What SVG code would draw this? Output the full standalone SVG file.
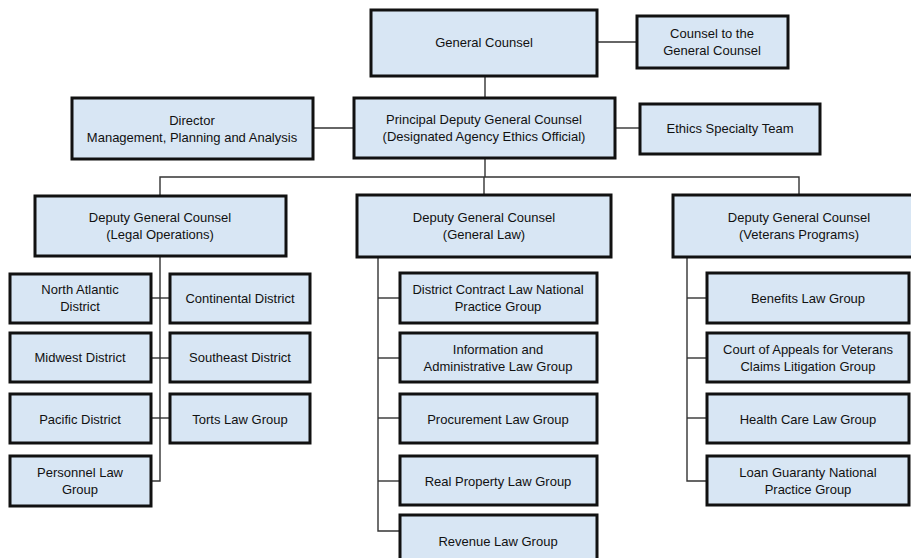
<svg xmlns="http://www.w3.org/2000/svg" width="911" height="558" viewBox="0 0 911 558">
<style>
.box rect{fill:#d8e6f4;stroke:#111;stroke-width:3}
.box text{font-family:"Liberation Sans",Arial,sans-serif;font-size:13px;fill:#111;text-anchor:middle}
.conn line,.conn polyline{stroke:#333;stroke-width:1.4;fill:none}
</style>
<rect width="911" height="558" fill="#fff"/>
<g class="conn">
<line x1="597" y1="42" x2="637" y2="42"/>
<line x1="485" y1="76" x2="485" y2="98"/>
<line x1="313" y1="128" x2="354" y2="128"/>
<line x1="615" y1="128" x2="640" y2="128"/>
<line x1="485" y1="158" x2="485" y2="177"/>
<polyline points="160,196 160,177 799,177 799,195"/>
<line x1="484" y1="177" x2="484" y2="195"/>
<polyline points="160,256 160,481 151,481"/>
<line x1="151" y1="298" x2="170" y2="298"/>
<line x1="151" y1="358" x2="170" y2="358"/>
<line x1="151" y1="418" x2="170" y2="418"/>
<polyline points="378,257 378,531 400,531"/>
<line x1="378" y1="298" x2="400" y2="298"/>
<line x1="378" y1="358" x2="400" y2="358"/>
<line x1="378" y1="418" x2="400" y2="418"/>
<line x1="378" y1="481" x2="400" y2="481"/>
<polyline points="687,257 687,481 707,481"/>
<line x1="687" y1="298" x2="707" y2="298"/>
<line x1="687" y1="358" x2="707" y2="358"/>
<line x1="687" y1="418" x2="707" y2="418"/>
</g>
<g id="general-counsel" class="box"><rect x="371" y="10" width="226" height="66"/><text x="484" y="47">General Counsel</text></g>
<g id="counsel-to-gc" class="box"><rect x="637" y="16" width="151" height="52"/><text x="712" y="38">Counsel to the</text><text x="712" y="55">General Counsel</text></g>
<g id="director" class="box"><rect x="72" y="98" width="241" height="61"/><text x="192" y="125">Director</text><text x="192" y="142">Management, Planning and Analysis</text></g>
<g id="principal-deputy" class="box"><rect x="354" y="98" width="261" height="60"/><text x="484" y="124">Principal Deputy General Counsel</text><text x="484" y="141">(Designated Agency Ethics Official)</text></g>
<g id="ethics" class="box"><rect x="640" y="104" width="180" height="50"/><text x="730" y="133">Ethics Specialty Team</text></g>
<g id="dgc-legal-ops" class="box"><rect x="35" y="196" width="251" height="60"/><text x="160" y="222">Deputy General Counsel</text><text x="160" y="239">(Legal Operations)</text></g>
<g id="dgc-general-law" class="box"><rect x="357" y="195" width="254" height="62"/><text x="484" y="222">Deputy General Counsel</text><text x="484" y="239">(General Law)</text></g>
<g id="dgc-veterans" class="box"><rect x="673" y="195" width="245" height="62"/><text x="799" y="222">Deputy General Counsel</text><text x="799" y="239">(Veterans Programs)</text></g>
<g id="north-atlantic" class="box"><rect x="10" y="274" width="141" height="49"/><text x="80" y="294">North Atlantic</text><text x="80" y="311">District</text></g>
<g id="continental" class="box"><rect x="170" y="274" width="140" height="49"/><text x="240" y="303">Continental District</text></g>
<g id="midwest" class="box"><rect x="10" y="333" width="141" height="49"/><text x="80" y="362">Midwest District</text></g>
<g id="southeast" class="box"><rect x="170" y="333" width="140" height="49"/><text x="240" y="362">Southeast District</text></g>
<g id="pacific" class="box"><rect x="10" y="394" width="141" height="49"/><text x="80" y="424">Pacific District</text></g>
<g id="torts" class="box"><rect x="170" y="394" width="140" height="49"/><text x="240" y="424">Torts Law Group</text></g>
<g id="personnel" class="box"><rect x="10" y="456" width="141" height="50"/><text x="80" y="477">Personnel Law</text><text x="80" y="494">Group</text></g>
<g id="district-contract" class="box"><rect x="400" y="273" width="197" height="50"/><text x="498" y="294">District Contract Law National</text><text x="498" y="311">Practice Group</text></g>
<g id="info-admin" class="box"><rect x="400" y="333" width="197" height="49"/><text x="498" y="354">Information and</text><text x="498" y="371">Administrative Law Group</text></g>
<g id="procurement" class="box"><rect x="400" y="394" width="197" height="49"/><text x="498" y="424">Procurement Law Group</text></g>
<g id="real-property" class="box"><rect x="400" y="456" width="197" height="49"/><text x="498" y="486">Real Property Law Group</text></g>
<g id="revenue" class="box"><rect x="400" y="515" width="197" height="55"/><text x="498" y="546">Revenue Law Group</text></g>
<g id="benefits" class="box"><rect x="707" y="273" width="202" height="50"/><text x="808" y="303">Benefits Law Group</text></g>
<g id="cavc" class="box"><rect x="707" y="333" width="202" height="49"/><text x="808" y="354">Court of Appeals for Veterans</text><text x="808" y="371">Claims Litigation Group</text></g>
<g id="health-care" class="box"><rect x="707" y="394" width="202" height="49"/><text x="808" y="424">Health Care Law Group</text></g>
<g id="loan-guaranty" class="box"><rect x="707" y="456" width="202" height="49"/><text x="808" y="477">Loan Guaranty National</text><text x="808" y="494">Practice Group</text></g>
</svg>
